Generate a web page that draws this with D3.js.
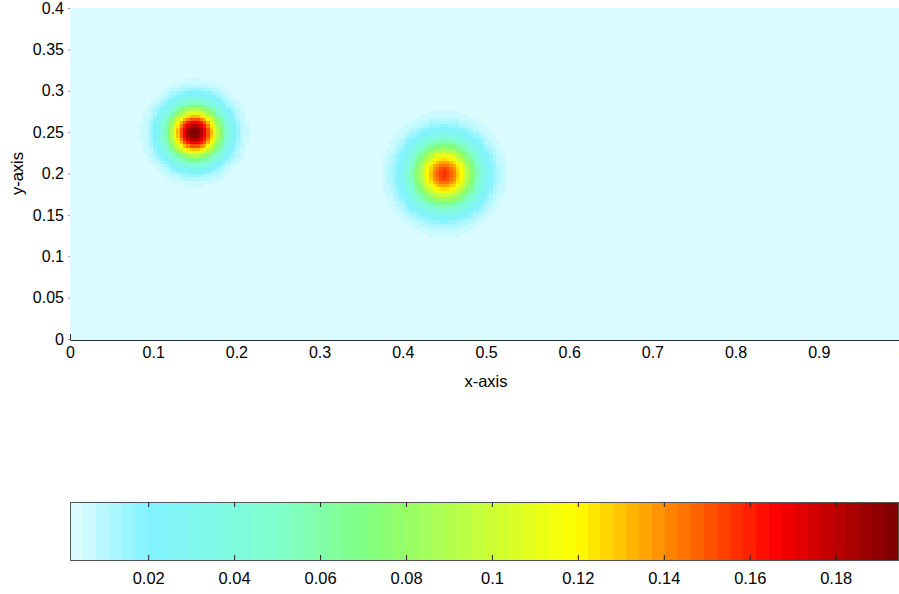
<!DOCTYPE html>
<html>
<head>
<meta charset="utf-8">
<script src="https://cdn.jsdelivr.net/npm/d3@7"></script>
<style>
  html, body { margin: 0; padding: 0; background: #ffffff; }
  svg { display: block; }
  text { font-family: "Liberation Sans", Arial, Helvetica, sans-serif; }
</style>
</head>
<body>
<svg id="chart" width="899" height="594"></svg>
<script>
// ---------------- data ----------------
// Domain of the field
const xDomain = [0, 1];
const yDomain = [0, 0.4];
// Gaussian sources (centre x, centre y, peak, width)
const blobX     = [0.15, 0.45];
const blobY     = [0.25, 0.20];
const blobPeak  = [0.1935, 0.1545];
const blobSigma = [0.0225, 0.027];
const baseValue = 0.0018;
// Grid resolution of the sampled field
const gridStep = 0.004;
// Colour limits and colormap
const cLimits = [0.0018, 0.1945];
const cmapStopPos = [0.0, 0.095, 0.24, 0.36, 0.61, 0.85, 1.0];
const cmapStopCol = ["#e2fdff", "#80f2ff", "#80ffd2", "#80ff80", "#ffff00", "#ff0000", "#7a0000"];
const cmapBands = 64;
// Tick labels
const xTicks = [0, 0.1, 0.2, 0.3, 0.4, 0.5, 0.6, 0.7, 0.8, 0.9, 1];
const yTicks = [0, 0.05, 0.1, 0.15, 0.2, 0.25, 0.3, 0.35, 0.4];
const cTicks = [0.02, 0.04, 0.06, 0.08, 0.1, 0.12, 0.14, 0.16, 0.18];
const xLabel = "x-axis";
const yLabel = "y-axis";

// ---------------- build ----------------
const svg = d3.select("#chart");
const tickFont = 16;
const labelFont = 16.5;

const plot = { left: 70, right: 902, top: 8, bottom: 339 };
const x = d3.scaleLinear().domain(xDomain).range([plot.left, plot.right]);
const y = d3.scaleLinear().domain(yDomain).range([plot.bottom, plot.top]);

// colormap bands
const stopScale = d3.scaleLinear().domain(cmapStopPos).range(cmapStopCol).interpolate(d3.interpolateRgb);
const bandColors = d3.range(cmapBands).map(i => stopScale((i + 0.5) / cmapBands));
const color = d3.scaleQuantize().domain(cLimits).range(bandColors);

// field sampling
const nx = Math.round((xDomain[1] - xDomain[0]) / gridStep);
const ny = Math.round((yDomain[1] - yDomain[0]) / gridStep);
const cells = [];
for (let j = 0; j < ny; j++) {
  for (let i = 0; i < nx; i++) {
    const px = xDomain[0] + (i + 0.5) * gridStep;
    const py = yDomain[0] + (j + 0.5) * gridStep;
    let v = baseValue;
    for (let k = 0; k < blobX.length; k++) {
      const dx = px - blobX[k], dy = py - blobY[k];
      v += blobPeak[k] * Math.exp(-(dx * dx + dy * dy) / (2 * blobSigma[k] * blobSigma[k]));
    }
    cells.push({ x0: xDomain[0] + i * gridStep, y0: yDomain[0] + j * gridStep, v });
  }
}

const cw = x(gridStep) - x(0);
const ch = y(0) - y(gridStep);
svg.append("g")
  .attr("shape-rendering", "crispEdges")
  .selectAll("rect")
  .data(cells)
  .join("rect")
  .attr("x", d => x(d.x0))
  .attr("y", d => y(d.y0 + gridStep))
  .attr("width", cw + 0.6)
  .attr("height", ch + 0.6)
  .attr("fill", d => color(Math.min(d.v, cLimits[1] - 1e-9)));

// axes
const axisColor = "#2b2b2b";
const yAxis = svg.append("g")
  .attr("transform", `translate(${plot.left},0)`)
  .call(d3.axisLeft(y).tickValues(yTicks).tickSize(2).tickPadding(4).tickFormat(d => d3.format("")(+d.toFixed(2))));
yAxis.select(".domain").remove();
yAxis.selectAll("line").attr("stroke", "#999");
yAxis.selectAll("text").attr("font-size", tickFont).attr("fill", "#000");

const xAxis = svg.append("g")
  .attr("transform", `translate(0,${plot.bottom + 1})`)
  .call(d3.axisBottom(x).tickValues(xTicks).tickSize(0).tickPadding(7).tickFormat(d => d3.format("")(+d.toFixed(1))));
xAxis.select(".domain").attr("stroke", axisColor);
xAxis.selectAll("text").attr("font-size", tickFont).attr("fill", "#000");

// left axis stub visible below the image
svg.append("line")
  .attr("x1", plot.left + 0.5).attr("x2", plot.left + 0.5)
  .attr("y1", plot.bottom - 5).attr("y2", plot.bottom + 1)
  .attr("stroke", axisColor);

svg.append("text")
  .attr("x", x(0.5))
  .attr("y", 387)
  .attr("text-anchor", "middle")
  .attr("font-size", labelFont)
  .text(xLabel);

svg.append("text")
  .attr("transform", `translate(23,${y(0.2)}) rotate(-90)`)
  .attr("text-anchor", "middle")
  .attr("font-size", labelFont)
  .text(yLabel);

// ---------------- colorbar ----------------
const cb = { left: 70, right: 898, top: 502, bottom: 560 };
const cxs = d3.scaleLinear().domain(cLimits).range([cb.left, cb.right]);
const bandWidth = (cLimits[1] - cLimits[0]) / cmapBands;
svg.append("g")
  .attr("shape-rendering", "crispEdges")
  .selectAll("rect")
  .data(bandColors)
  .join("rect")
  .attr("x", (d, i) => cxs(cLimits[0] + i * bandWidth))
  .attr("y", cb.top)
  .attr("width", cxs(cLimits[0] + bandWidth) - cxs(cLimits[0]) + 0.6)
  .attr("height", cb.bottom - cb.top)
  .attr("fill", d => d);

svg.append("rect")
  .attr("x", cb.left + 0.5).attr("y", cb.top + 0.5)
  .attr("width", cb.right - cb.left).attr("height", cb.bottom - cb.top)
  .attr("fill", "none").attr("stroke", "#555");

const cAxisB = svg.append("g")
  .attr("transform", `translate(0,${cb.bottom})`)
  .call(d3.axisBottom(cxs).tickValues(cTicks).tickSize(-5).tickPadding(12).tickFormat(d => d3.format("")(+d.toFixed(2))));
cAxisB.select(".domain").remove();
cAxisB.selectAll("line").attr("stroke", "#222");
cAxisB.selectAll("text").attr("font-size", labelFont).attr("fill", "#000");

const cAxisT = svg.append("g")
  .attr("transform", `translate(0,${cb.top})`)
  .call(d3.axisTop(cxs).tickValues(cTicks).tickSize(-5).tickFormat(""));
cAxisT.select(".domain").remove();
cAxisT.selectAll("line").attr("stroke", "#222");
</script>
</body>
</html>
